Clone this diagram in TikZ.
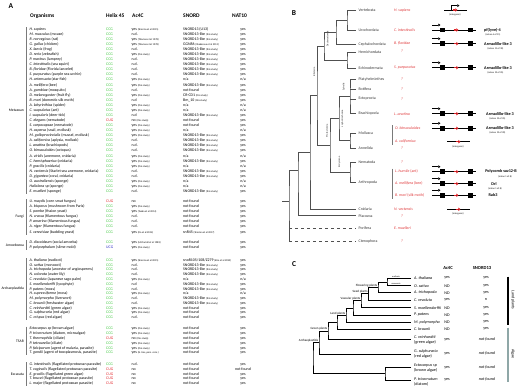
\documentclass[tikz,border=0pt]{standalone}
\usepackage{fontspec}
\setmainfont{Carlito}
\usetikzlibrary{arrows.meta}
\definecolor{cg}{HTML}{3CC83C}
\definecolor{cr}{HTML}{E3262B}
\definecolor{cbl}{HTML}{2E2EC8}
\definecolor{brkgray}{HTML}{7A7A7A}
\definecolor{treegray}{HTML}{505050}
\definecolor{spred}{HTML}{E0393B}
\definecolor{algae}{HTML}{8FA7A7}
\definecolor{leafgray}{HTML}{333333}
\newcommand\citesm[1]{{\fontsize{2.6}{3}\selectfont #1}}
\newcommand\thisst{\citesm{(this study)}}
\newcommand\snlike{SNORD13-like \thisst}
\newcommand\trow[8]{%
  \node[orgt] (o#1) at (29.5,#2) {#3};
  \node[orgt,text=#4] (h#1) at (106,#2) {#5};
  \node[orgt] (a#1) at (131.5,#2) {#6};
  \node[orgt] (s#1) at (183,#2) {#7};
  \node[orgt,anchor=center] (n#1) at (243,#2) {#8};}
\newcommand\genediag[2]{%
  \draw[gline] (432,#2) coordinate (g#1a) -- (476,#2) coordinate (g#1b);
  \node[exon] (g#1e1) at (442.5,#2) {};
  \node[exon] (g#1e2) at (470.5,#2) {};
  \draw[snoarrow] (453.5,#2) -- (458.5,#2);
  \draw[txarrow] (432,{#2-5}) -- (440.5,{#2-5});}
\newcommand\intergen[3]{%
  \draw[gline] (#3-11,#2) coordinate (i#1a) -- (#3+12,#2) coordinate (i#1b);
  \draw[snoarrow] (#3-2.5,#2) -- (#3+2.5,#2);
  \node[intr] (i#1t) at (#3,{#2+4.8}) {(intergenic)};}
\begin{document}
\begin{tikzpicture}[x=1pt,y=-1pt,
  orgt/.style={anchor=west,inner sep=0pt,font=\fontsize{3.9}{4.2}\selectfont,text height=2.7pt,text depth=0.8pt},
  hdr/.style={anchor=west,inner sep=0pt,font=\fontsize{5.5}{6}\selectfont\bfseries},
  grp/.style={anchor=east,inner sep=0pt,font=\fontsize{3.7}{4}\selectfont},
  brk/.style={draw=brkgray,line width=1.4pt},
  panel/.style={inner sep=0pt,font=\fontsize{7.5}{8}\selectfont\bfseries},
  tree/.style={draw=treegray,line width=0.8pt},
  ctree/.style={draw=black,line width=0.6pt},
  leaf/.style={anchor=west,inner sep=0pt,font=\fontsize{3.9}{4.2}\selectfont,text=leafgray},
  sp/.style={anchor=west,inner sep=0pt,font=\fontsize{3.9}{4.2}\selectfont\itshape,text=spred},
  qm/.style={inner sep=0pt,font=\fontsize{3.9}{4.2}\selectfont\itshape,text=spred},
  clade/.style={inner sep=0pt,font=\fontsize{2.6}{3}\selectfont,text=leafgray,rotate=90},
  gname/.style={inner sep=0pt,font=\fontsize{4.2}{5}\selectfont\bfseries},
  intr/.style={inner sep=0pt,font=\fontsize{2.4}{3}\selectfont},
  exon/.style={fill=black,minimum size=4.6pt,inner sep=0pt},
  gline/.style={draw=black,line width=0.6pt},
  snoarrow/.style={draw=cr,line width=1.3pt,-{Triangle[length=2.2pt,width=3.4pt]}},
  txarrow/.style={draw=black,line width=0.75pt,-{Triangle[length=2.2pt,width=2.8pt]}},
  sbrk/.style={draw=brkgray,line width=0.5pt},
  cname/.style={anchor=west,inner sep=0pt,font=\fontsize{4.1}{4.5}\selectfont},
  cval/.style={inner sep=0pt,font=\fontsize{4.1}{4.5}\selectfont},
  chdr/.style={inner sep=0pt,font=\fontsize{4.6}{5}\selectfont\bfseries},
  clbl/.style={anchor=south east,inner sep=0pt,font=\fontsize{3.2}{3.5}\selectfont},
  tiny/.style={inner sep=0pt,font=\fontsize{2.2}{2.5}\selectfont}
]
\useasboundingbox (0,0) rectangle (520,388);
\fill[white] (0,0) rectangle (520,388);

% ---------------- Panel A ----------------
\node[panel] (pA) at (11,5.8) {A};
\node[hdr] (hOrg) at (30,16) {Organisms};
\node[hdr] (hHel) at (106,16) {Helix 45};
\node[hdr] (hAc) at (132,16) {Ac4C};
\node[hdr] (hSn) at (183,16) {SNORD};
\node[hdr] (hNat) at (232,16) {NAT10};

\trow{1}{29.3}{\textit{H. sapiens}}{cg}{CCG}{yes \citesm{(Sharma et al 2015)}}{SNORD13 (U13)}{yes}
\trow{2}{34.37}{\textit{M. musculus} (mouse)}{cg}{CCG}{n.d.}{\snlike}{yes}
\trow{3}{39.44}{\textit{R. norvegicus} (rat)}{cg}{CCG}{yes \citesm{(Thomas et al 1978)}}{\snlike}{yes}
\trow{4}{44.51}{\textit{G. gallus} (chicken)}{cg}{CCG}{yes \citesm{(Thomas et al 1978)}}{GGN86 \citesm{(Shakarova et al 2011)}}{yes}
\trow{5}{49.58}{\textit{X. laevis} (frog)}{cg}{CCG}{n.d.}{\snlike}{yes}
\trow{6}{54.65}{\textit{D. rerio} (zebrafish)}{cg}{CCG}{yes \thisst}{\snlike}{yes}
\trow{7}{59.72}{\textit{P. marinus} (lamprey)}{cg}{CCG}{n.d.}{\snlike}{yes}
\trow{8}{64.79}{\textit{C. intestinalis} (sea squirt)}{cg}{CCG}{n.d.}{\snlike}{yes}
\trow{9}{69.86}{\textit{B. floridae} (Florida lancelet)}{cg}{CCG}{n.d.}{\snlike}{yes}
\trow{10}{74.93}{\textit{S. purpuratus} (purple sea urchin)}{cg}{CCG}{n.d.}{\snlike}{yes}
\trow{11}{80.0}{\textit{H. artemuata} (star fish)}{cg}{CCG}{yes \thisst}{n/a}{n/a}
\trow{12}{85.07}{\textit{A. mellifera} (bee)}{cg}{CCG}{yes \thisst}{\snlike}{yes}
\trow{13}{90.14}{\textit{A. gambiae} (mosquito)}{cg}{CCG}{n.d.}{not found}{yes}
\trow{14}{95.21}{\textit{D. melanogaster} (fruit fly)}{cg}{CCG}{yes \thisst}{CR-CD1 \thisst}{yes}
\trow{15}{100.28}{\textit{B. mori} (domestic silk moth)}{cg}{CCG}{n.d}{Bm\_10 \thisst}{yes}
\trow{16}{105.35}{\textit{A. labyrinthica} (spider)}{cg}{CCG}{yes \thisst}{n/a}{n/a}
\trow{17}{110.42}{\textit{C. scapulatus} (ant)}{cg}{CCG}{yes \thisst}{n/a}{n/a}
\trow{18}{115.49}{\textit{I. scapularis} (deer tick)}{cg}{CCG}{n.d}{\snlike}{yes}
\trow{19}{120.56}{\textit{C. elegans} (nematode)}{cr}{CUG}{no \thisst}{not found}{yes}
\trow{20}{125.63}{\textit{S. carpocapsae} (nematode)}{cg}{CCG}{yes \thisst}{not found}{yes}
\trow{21}{130.7}{\textit{H. aspersa} (snail, mollusk)}{cg}{CCG}{yes \thisst}{n/a}{n/a}
\trow{22}{135.77}{\textit{M. galloprovincialis} (mussel, mollusk)}{cg}{CCG}{yes \thisst}{\snlike}{yes}
\trow{23}{140.84}{\textit{A. californica} (aplysia, mollusk)}{cg}{CCG}{n.d.}{\snlike}{yes}
\trow{24}{145.91}{\textit{L. anatina} (brachiopods)}{cg}{CCG}{n.d.}{\snlike}{yes}
\trow{25}{150.98}{\textit{O. bimaculoides} (octopus)}{cg}{CCG}{n.d.}{\snlike}{yes}
\trow{26}{156.05}{\textit{A. viridis} (anemone, cnidaria)}{cg}{CCG}{yes \thisst}{n/a}{n/a}
\trow{27}{161.12}{\textit{C. hemisphaerica} (cnidaria)}{cg}{CCG}{yes \thisst}{\snlike}{yes}
\trow{28}{166.19}{\textit{P. gracilis} (cnidaria)}{cg}{CCG}{yes \thisst}{n/a}{n/a}
\trow{29}{171.26}{\textit{N. vectensis} (Starlet sea anemone, cnidaria)}{cg}{CCG}{n.d.}{\snlike}{yes}
\trow{30}{176.33}{\textit{D. gigantea} (coral, cnidaria)}{cg}{CCG}{n.d.}{\snlike}{yes}
\trow{31}{181.4}{\textit{O. australiensis} (sponge)}{cg}{CCG}{yes \thisst}{n/a}{n/a}
\trow{32}{186.47}{\textit{Haliclona sp} (sponge)}{cg}{CCG}{yes \thisst}{n/a}{n/a}
\trow{33}{191.54}{\textit{E. muelleri} (sponge)}{cg}{CCG}{n.d.}{\snlike}{yes}
\trow{34}{201.68}{\textit{U. maydis} (corn smut fungus)}{cr}{CUG}{no}{not found}{yes}
\trow{35}{206.75}{\textit{A. bisporus} (mushroom from Paris)}{cg}{CCG}{yes \thisst}{not found}{yes}
\trow{36}{211.82}{\textit{S. pombe} (fission yeast)}{cg}{CCG}{yes \citesm{(Taoka et al 2014)}}{not found}{yes}
\trow{37}{216.89}{\textit{N. crassa} (filamentous fungus)}{cg}{CCG}{n.d.}{not found}{yes}
\trow{38}{221.96}{\textit{P. anserina} (filamentous fungus)}{cg}{CCG}{n.d.}{not found}{yes}
\trow{39}{227.03}{\textit{A. niger} (filamentous fungus)}{cg}{CCG}{n.d.}{not found}{yes}
\trow{40}{232.1}{\textit{S. cerevisiae} (budding yeast)}{cg}{CCG}{yes \citesm{(Ito et al 2014)}}{snR45 \citesm{(Sharma et al 2017)}}{yes}
\trow{41}{242.9}{\textit{D. discoideum} (social amoeba)}{cg}{CCG}{yes \citesm{(McCarroll et al 1983)}}{not found}{yes}
\trow{42}{247.66}{\textit{P. polycephalum} (slime mold)}{cbl}{UCG}{yes \thisst}{not found}{yes}
\trow{43}{260.5}{\textit{A. thaliana} (eudicot)}{cg}{CCG}{yes \citesm{(Sharma et al 2015)}}{snoR105/108/Z279 \citesm{(Kim et al 2010)}}{yes}
\trow{44}{265.26}{\textit{O. sativa} (monocot)}{cg}{CCG}{n.d.}{\snlike}{yes}
\trow{45}{270.02}{\textit{A. trichopoda} (ancestor of angiosperms)}{cg}{CCG}{n.d.}{\snlike}{yes}
\trow{46}{274.78}{\textit{N. colorata} (water lily)}{cg}{CCG}{n.d.}{\snlike}{yes}
\trow{47}{279.54}{\textit{C. revoluta} (Japanese sago palm)}{cg}{CCG}{yes \thisst}{n/a}{n/a}
\trow{48}{284.3}{\textit{S. moellendorffii} (lycophyte)}{cg}{CCG}{n.d}{\snlike}{yes}
\trow{49}{289.06}{\textit{P. patens} (moss)}{cg}{CCG}{n.d.}{\snlike}{yes}
\trow{50}{293.82}{\textit{H. cupressiforme} (moss)}{cg}{CCG}{yes \thisst}{n/a}{n/a}
\trow{51}{298.58}{\textit{M. polymorpha} (liverwort)}{cg}{CCG}{n.d.}{\snlike}{yes}
\trow{52}{303.34}{\textit{C. braunii} (freshwater algae)}{cg}{CCG}{n.d.}{\snlike}{yes}
\trow{53}{308.1}{\textit{C. reinhardtii} (green algae)}{cg}{CCG}{yes \thisst}{not found}{yes}
\trow{54}{312.86}{\textit{G. sulphuraria} (red algae)}{cg}{CCG}{yes \thisst}{not found}{yes}
\trow{55}{317.62}{\textit{C. crispus} (red algae)}{cg}{CCG}{n.d.}{not found}{yes}
\trow{56}{329.04}{\textit{Ectocarpus sp} (brown algae)}{cg}{CCG}{yes \thisst}{not found}{yes}
\trow{57}{333.8}{\textit{P. tricornutum} (diatom, microalgae)}{cg}{CCG}{yes \thisst}{not found}{yes}
\trow{58}{338.56}{\textit{T. thermophila} (ciliate)}{cr}{CUG}{no \thisst}{not found}{yes}
\trow{59}{343.32}{\textit{P. tetraurelia} (ciliate)}{cg}{CCG}{yes \thisst}{not found}{yes}
\trow{60}{348.08}{\textit{P. falciparum} (agent of malaria, parasite)}{cg}{CCG}{yes \thisst}{not found}{yes}
\trow{61}{352.84}{\textit{T. gondii} (agent of toxoplasmosis, parasite)}{cg}{CCG}{yes \citesm{(N. Gas, pers. com.)}}{not found}{yes}
\trow{62}{364.74}{\textit{G. intestinalis} (flagellated protozoan parasite)}{cg}{CCG}{n.d.}{not found}{yes}
\trow{63}{369.5}{\textit{T. vaginalis} (flagellated protozoan parasite)}{cr}{CUG}{no}{not found}{not found}
\trow{64}{374.26}{\textit{E. gracilis} (flagellated green algae)}{cr}{CUG}{no}{not found}{yes}
\trow{65}{379.02}{\textit{T. brucei} (flagellated protozoan parasite)}{cr}{CUG}{no}{not found}{yes}
\trow{66}{383.78}{\textit{L. major} (flagellated protozoan parasite)}{cr}{CUG}{no}{not found}{yes}

\draw[brk] (26.5,27) -- (26.5,194);
\draw[brk] (26.5,199.2) -- (26.5,234.6);
\draw[brk] (26.5,240.4) -- (26.5,250.2);
\draw[brk] (26.5,258) -- (26.5,320.1);
\draw[brk] (26.5,326.5) -- (26.5,355.3);
\draw[brk] (26.5,362.2) -- (26.5,386.3);
\node[grp] (gMet) at (24,110.4) {Metazoan};
\node[grp] (gFun) at (24,216.9) {Fungi};
\node[grp] (gAmo) at (24,245.3) {Amoebozoa};
\node[grp] (gArc) at (24,289) {Archaeplastida};
\node[grp] (gTsa) at (24,341) {TSAR};
\node[grp] (gExc) at (24,374.3) {Excavata};

% ---------------- Panel B ----------------
\node[panel] (pB) at (294,13.3) {B};
\foreach \nm/\yy in {V/10,U/30,Ce/44,H/52,E/68,Pl/79,R/89,Ec/99,Br/113,Mo/133,An/148,Ne/162,Ar/182,Cn/209,Pla/215.5,Po/228.3,Ct/241}
  \coordinate (l\nm) at (356,\yy);
\coordinate (bOlf) at (347,20);
\coordinate (bCho) at (336,32);
\coordinate (bAmb) at (347,60);
\coordinate (bDeu) at (324,46);
\coordinate (bGA) at (350,96);
\coordinate (bMA) at (350,140.5);
\coordinate (bLop) at (339,118.25);
\coordinate (bEcd) at (350,172);
\coordinate (bPro) at (330,145);
\coordinate (bBil) at (317,95.5);
\coordinate (bBC) at (310,152);
\coordinate (bPar) at (298,170);
\coordinate (bRoot) at (289,201);
\coordinate (bStub) at (282,201);
\draw[tree] (lV) -| (bOlf) |- (lU);
\draw[tree] (bOlf) -| (bCho) |- (lCe);
\draw[tree] (lH) -| (bAmb) |- (lE);
\draw[tree] (bCho) -| (bDeu) |- (bAmb);
\draw[tree] (lPl) -| (bGA) |- (lBr);
\draw[tree] (bGA |- lR) -- (lR);
\draw[tree] (bGA |- lEc) -- (lEc);
\draw[tree] (lMo) -| (bMA) |- (lAn);
\draw[tree] (bGA) -| (bLop) |- (bMA);
\draw[tree] (lNe) -| (bEcd) |- (lAr);
\draw[tree] (bLop) -| (bPro) |- (bEcd);
\draw[tree] (bDeu) -| (bBil) |- (bPro);
\draw[tree] (bBil) -| (bBC) |- (lCn);
\draw[tree] (bBC) -| (bPar) |- (lPla);
\draw[tree] (bPar) -| (bRoot) -- (bRoot |- lCt);
\draw[tree] (bStub) -- (bRoot);
\draw[tree,dashed] (bRoot |- lPo) -- (lPo);
\draw[tree,dashed] (bRoot |- lCt) -- (lCt);

\node[clade] (kDeu) at (327.6,39) {Deuterostomia};
\node[clade] (kBil) at (314.3,72) {Bilateria};
\node[clade] (kSpi) at (343.6,87) {Spiralia};
\node[clade] (kLop) at (342.4,118.5) {Lophotrochozoa};
\node[clade] (kPro) at (327,131) {Protostomia};
\node[clade] (kEcd) at (339.5,162) {Ecdysozoa};

\node[leaf] (tV) at (358.5,10) {Vertebrata};
\node[leaf] (tU) at (358.5,30) {Urochordata};
\node[leaf] (tCe) at (358.5,44) {Cephalochordata};
\node[leaf] (tH) at (358.5,52) {Hemichordata};
\node[leaf] (tE) at (358.5,68) {Echinodermata};
\node[leaf] (tPl) at (358.5,79) {Platyhelminthes};
\node[leaf] (tR) at (358.5,89) {Rotifera};
\node[leaf] (tEc) at (358.5,99) {Ectoprocta};
\node[leaf] (tBr) at (358.5,113) {Brachiopoda};
\node[leaf] (tMo) at (358.5,133) {Mollusca};
\node[leaf] (tAn) at (358.5,148) {Annelida};
\node[leaf] (tNe) at (358.5,162) {Nematoda};
\node[leaf] (tAr) at (358.5,182) {Arthropoda};
\node[leaf] (tCn) at (358.5,209) {Cnidaria};
\node[leaf] (tPla) at (358.5,215.7) {Placozoa};
\node[leaf] (tPo) at (358.5,228.3) {Porifera};
\node[leaf] (tCt) at (358.5,241) {Ctenophora};

\node[sp] (sHs) at (394,10) {H. sapiens};
\node[sp] (sCi) at (394,30) {C. intestinalis};
\node[sp] (sBf) at (394,43.7) {B. floridae};
\node[qm] (qH) at (402,51.5) {?};
\node[sp] (sSp) at (394,67.7) {S. purpuratus};
\node[qm] (qPl) at (402,79.3) {?};
\node[qm] (qR) at (402,89.3) {?};
\node[qm] (qEc) at (402,99.3) {?};
\node[sp] (sLa) at (394,113.7) {L. anatina};
\node[sp] (sOb) at (395,128.3) {O. bimaculoides};
\node[sp] (sAc) at (395,141.7) {A. californica};
\node[qm] (qAn) at (402,148) {?};
\node[qm] (qNe) at (402,161.7) {?};
\node[sp] (sLh) at (395,171.7) {L. humile \textup{(ant)}};
\node[sp] (sAm) at (395,183.7) {A. mellifera \textup{(bee)}};
\node[sp] (sBm) at (395,195.3) {B. mori \textup{(silk moth)}};
\node[sp] (sNv) at (394,209.3) {N. vectensis};
\node[qm] (qPla) at (402,215.9) {?};
\node[sp] (sEm) at (394,228.3) {E. muelleri};
\node[qm] (qCt) at (402,241) {?};
\draw[sbrk] (392.5,125) -- (392.5,145);
\draw[sbrk] (392.5,168.5) -- (392.5,198.5);

% gene diagrams
\intergen{Hs}{10}{455}
\draw[txarrow] (451,10) -- (451,5.6) -- (459.5,5.6);
\genediag{Ci}{30}
\genediag{Bf}{43.7}
\genediag{Sp}{67.7}
\genediag{La}{113.7}
\genediag{Ob}{128.3}
\intergen{Ac}{141.7}{458}
\genediag{Lh}{171.7}
\genediag{Am}{183.7}
\genediag{Bm}{195.3}
\intergen{Nv}{209.3}{458}

\node[gname] (nCi) at (492.5,30) {pf(lyve)-4};
\node[intr] (iCi) at (493,34.6) {(intron 4 of 11)};
\node[gname] (nBf) at (498,43.7) {Armadillo-like 3};
\node[intr] (iBf) at (495.5,48.3) {(intron 11 of 30)};
\node[gname] (nSp) at (498,67.7) {Armadillo-like 3};
\node[intr] (iSp) at (495.5,72.3) {(intron 12 of 25)};
\node[gname] (nLa) at (500,113.7) {Armadillo-like 3};
\node[intr] (iLa) at (497.5,118.3) {(intron 12 of 25)};
\node[gname] (nOb) at (500,128.3) {Armadillo-like 3};
\node[intr] (iOb) at (497.5,132.9) {(intron 12 of 20)};
\node[gname] (nLh) at (501,171.7) {Polycomb suz12-B};
\node[intr] (iLh) at (505,176.3) {(intron 1 of 8)};
\node[gname] (nAm) at (494,183.7) {Drl};
\node[intr] (iAm) at (495,188.3) {(intron 1 of 8)};
\node[gname] (nBm) at (493,195.3) {Rab3};

% ---------------- Panel C ----------------
\node[panel] (pC) at (294,264) {C};
\node[chdr] (cH1) at (448,268.3) {Ac4C};
\node[chdr] (cH2) at (482,268.3) {SNORD13};
\coordinate (cAth) at (411,278.3);
\coordinate (cOsa) at (411,285.7);
\coordinate (cAtr) at (411,292.7);
\coordinate (cCrev) at (411,300);
\coordinate (cSmoe) at (411,307.7);
\coordinate (cPpat) at (411,315);
\coordinate (cMpol) at (411,322.3);
\coordinate (cCbra) at (411,329.3);
\coordinate (cCrei) at (411,339.7);
\coordinate (cGsul) at (411,353.8);
\coordinate (cEcto) at (411,367.5);
\coordinate (cPtri) at (411,380);
\coordinate (N1) at (387,282);
\coordinate (N2) at (378,287.35);
\coordinate (N3) at (368.5,293.7);
\coordinate (N4) at (361,300.7);
\coordinate (N5) at (353,307.85);
\coordinate (N6) at (346,315.1);
\coordinate (N7) at (337,322.2);
\coordinate (N8) at (328,330.95);
\coordinate (N9) at (319,342.4);
\coordinate (cT) at (385,373.75);
\coordinate (cRoot) at (313,358);
\draw[ctree] (cAth) -| (N1) |- (cOsa);
\draw[ctree] (N1) -| (N2) |- (cAtr);
\draw[ctree] (N2) -| (N3) |- (cCrev);
\draw[ctree] (N3) -| (N4) |- (cSmoe);
\draw[ctree] (N4) -| (N5) |- (cPpat);
\draw[ctree] (N5) -| (N6) |- (cMpol);
\draw[ctree] (N6) -| (N7) |- (cCbra);
\draw[ctree] (N7) -| (N8) |- (cCrei);
\draw[ctree] (N8) -| (N9) |- (cGsul);
\draw[ctree] (N9) -| (cRoot) |- (cT);
\draw[ctree] (cEcto) -| (cT) |- (cPtri);

\node[tiny] (eud) at (396,276.7) {eudicots};
\node[tiny] (mon) at (396,284.1) {monocots};
\node[clbl] (lFl) at (377.4,287.1) {Flowering plants};
\node[clbl] (lSe) at (367.9,293.4) {Seed plants};
\node[clbl] (lVa) at (360.4,300.4) {Vascular plants};
\node[clbl] (lLa) at (345.4,314.8) {Land plants};
\node[clbl] (lGr) at (327.4,330.6) {Green plants};
\node[clbl] (lAr) at (318.4,342.1) {Archaeplastida};

\node[cname] (cn1) at (414,278.3) {\textit{A. thaliana}};
\node[cname] (cn2) at (414,285.7) {\textit{O. sativa}};
\node[cname] (cn3) at (414,292.7) {\textit{A. trichopoda}};
\node[cname] (cn4) at (414,300) {\textit{C. revoluta}};
\node[cname] (cn5) at (414,307.7) {\textit{S. moellendorffii}};
\node[cname] (cn6) at (414,315) {\textit{P. patens}};
\node[cname] (cn7) at (414,322.3) {\textit{M. polymorpha}};
\node[cname] (cn8) at (414,329.3) {\textit{C. braunii}};
\node[cname] (cn9) at (414,337.5) {\textit{C. reinhardtii}};
\node[cname] (cn9b) at (414,341.9) {(green algae)};
\node[cname] (cn10) at (414,351.6) {\textit{G. sulphuraria}};
\node[cname] (cn10b) at (414,356) {(red algae)};
\node[cname] (cn11) at (414,365.3) {\textit{Ectocarpus sp}};
\node[cname] (cn11b) at (414,369.9) {(brown algae)};
\node[cname] (cn12) at (414,379.6) {\textit{P. tricornutum}};
\node[cname] (cn12b) at (414,384.2) {(diatom)};

\foreach \yy/\va/\vb [count=\k] in {278.3/yes/yes,285.7/ND/yes,292.7/ND/yes,300/yes/n/a,307.7/ND/yes,315/ND/yes,322.3/ND/yes,329.3/ND/yes}{
  \node[cval] (ca\k) at (447,\yy) {\va};
  \node[cval] (cs\k) at (486,\yy) {\vb};
}
\foreach \yy [count=\k] in {339.7,353.8,367.5,379.6}{
  \node[cval] (cya\k) at (447,\yy) {yes};
  \node[cval] (cyb\k) at (487,\yy) {\textit{not found}};
}
\draw[line width=2.4pt,black] (508,276.5) -- (508,325);
\draw[line width=2.4pt,algae] (508,327.5) -- (508,382);
\node[cval,rotate=-90] (bLand) at (513,300) {Land plants};
\node[cval,rotate=-90] (bAlg) at (513,354) {Algae};
\end{tikzpicture}
\end{document}
